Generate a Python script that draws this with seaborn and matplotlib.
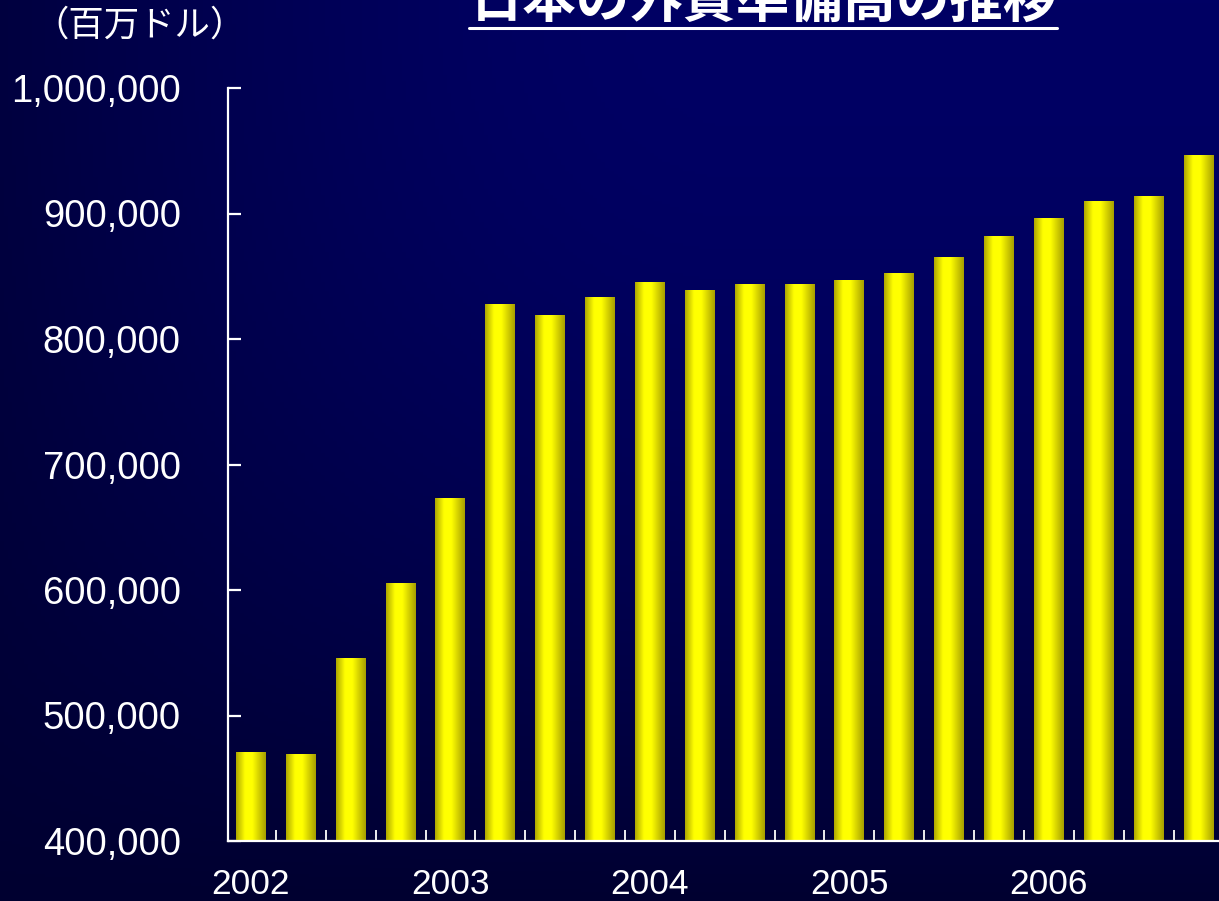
import numpy as np
import pandas as pd
import matplotlib
matplotlib.use("Agg")
import matplotlib.pyplot as plt
import seaborn as sns
from matplotlib.colors import LinearSegmentedColormap
from matplotlib.ticker import FuncFormatter
from matplotlib.lines import Line2D

# ---- data (millions of US dollars, quarterly from end of 2002) ----
periods = ["2002-12", "2003-03", "2003-06", "2003-09",
           "2003-12", "2004-03", "2004-06", "2004-09",
           "2004-12", "2005-03", "2005-06", "2005-09",
           "2005-12", "2006-03", "2006-06", "2006-09",
           "2006-12", "2007-03", "2007-06", "2007-09"]
reserves = [470900, 469300, 545800, 604800,
            673300, 827100, 819100, 832700,
            845400, 839000, 843800, 843800,
            847000, 851800, 865300, 881300,
            896400, 909200, 913900, 946600]
year_labels = ["2002", "2003", "2004", "2005", "2006"]
year_label_every = 4
y_ticks = [400000, 500000, 600000, 700000, 800000, 900000, 1000000]

title = "日本の外貨準備高の推移"
unit_label = "（百万ドル）"

df = pd.DataFrame({"period": periods, "reserves": reserves})

sns.set_theme(style="white")
plt.rcParams["font.family"] = ["Liberation Sans", "Noto Sans CJK JP", "DejaVu Sans"]

W, H = 1219, 901
fig = plt.figure(figsize=(W / 100, H / 100), dpi=100)
fig.patch.set_facecolor("#000030")

# ---- background gradient ----
bg = fig.add_axes([0, 0, 1, 1])
bg.set_zorder(-5)
gx = np.linspace(0, 1, 300)
gy = np.linspace(0, 1, 300)   # 0 = top, 1 = bottom
X, Y = np.meshgrid(gx, gy)
a = 0.3 + 0.7 * np.sin(np.clip(X / 0.6, 0, 1) * np.pi / 2)
b = 1 - Y ** 2
g = a * b
blue = (48 + 52 * g) / 255.0
img = np.zeros((300, 300, 3))
img[..., 2] = blue
bg.imshow(img, extent=(0, 1, 0, 1), aspect="auto", origin="upper")
bg.set_axis_off()

# ---- main axes ----
left = 228 / W
bottom = (H - 841) / H
top = (H - 88) / H
ax = fig.add_axes([left, bottom, 1.0 - left, top - bottom])
ax.set_zorder(1)
ax.set_facecolor("none")

sns.barplot(data=df, x="period", y="reserves", order=periods, width=0.6,
            color="#ffff00", ax=ax, saturation=1, linewidth=0)

n = len(periods)
xlim = (-0.46, n - 1 + 0.41)
ylim = (y_ticks[0], y_ticks[-1])

# cylindrical gradient on each bar
bar_cmap = LinearSegmentedColormap.from_list(
    "cyl", [(0.0, (0.68, 0.65, 0.0)), (0.3, (1.0, 1.0, 0.0)),
            (0.55, (1.0, 1.0, 0.0)), (1.0, (0.65, 0.62, 0.0))])
grad = np.linspace(0, 1, 256).reshape(1, -1)
for p in ax.patches:
    x0 = p.get_x()
    w = p.get_width()
    y_top = p.get_y() + p.get_height()
    y_bot = max(p.get_y(), ylim[0])
    ax.imshow(grad, cmap=bar_cmap, extent=(x0, x0 + w, y_bot, y_top),
              aspect="auto", origin="lower", zorder=2, interpolation="bilinear")
    p.set_visible(False)
ax.set_xlim(*xlim)
ax.set_ylim(*ylim)

# axes styling
for s in ["top", "right"]:
    ax.spines[s].set_visible(False)
for s in ["left", "bottom"]:
    ax.spines[s].set_color("white")
    ax.spines[s].set_linewidth(1.6)
    ax.spines[s].set_zorder(3)

ax.set_yticks(y_ticks)
ax.yaxis.set_major_formatter(FuncFormatter(lambda v, pos: f"{v:,.0f}"))
ax.tick_params(axis="y", direction="in", length=9.5, width=1.6, colors="white",
               labelsize=27.5, pad=34, left=True)

ax.set_xticks(list(range(0, n, year_label_every)))
ax.set_xticklabels(year_labels)
ax.set_xticks([i + 0.5 for i in range(n - 1)], minor=True)
ax.tick_params(axis="x", which="major", length=0, colors="white",
               labelsize=25.5, pad=19.5, bottom=True)
ax.tick_params(axis="x", which="minor", direction="in", length=8, width=1.3,
               colors="white", bottom=True)
ax.set_xlabel("")
ax.set_ylabel("")
ax.grid(False)

# ---- title and unit label ----
t = fig.text(763 / W, 1 - 18 / H, title, ha="center", va="baseline",
             fontsize=38.4, fontweight="bold", color="white",
             family=["Noto Sans CJK JP", "DejaVu Sans"])
fig.text(140 / W, 1 - 26 / H, unit_label, ha="center", va="center",
         fontsize=25.5, color="white", family=["Noto Sans CJK JP", "DejaVu Sans"])

fig.canvas.draw()
bb = t.get_window_extent(fig.canvas.get_renderer())
uy = 1 - 28 / H
fig.add_artist(Line2D([bb.x0 / W, bb.x1 / W], [uy, uy], color="white",
                      linewidth=2.2, transform=fig.transFigure))

fig.savefig("out.png", dpi=100, facecolor=fig.get_facecolor())
